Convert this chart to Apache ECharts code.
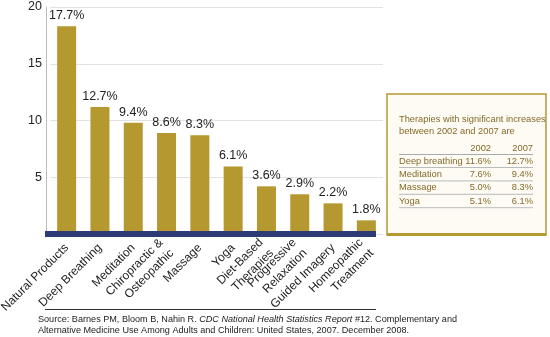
<!DOCTYPE html>
<html><head><meta charset="utf-8">
<script src="https://cdn.jsdelivr.net/npm/echarts@6/dist/echarts.min.js"></script>
<style>html,body{margin:0;padding:0;background:#fff}#c{width:550px;height:337px}</style>
</head><body><div id="c"></div>
<script>
var categories = ['Natural Products','Deep Breathing','Meditation','Chiropractic &\nOsteopathic','Massage','Yoga','Diet-Based\nTherapies','Progressive\nRelaxation','Guided Imagery','Homeopathic\nTreatment'];
var barHeights = [18.3, 11.2, 9.8, 8.9, 8.7, 5.95, 4.2, 3.5, 2.7, 1.2];
var valueLabels = ['17.7%','12.7%','9.4%','8.6%','8.3%','6.1%','3.6%','2.9%','2.2%','1.8%'];
var yTicks = [0, 5, 10, 15, 20];
var tableTitle = ['Therapies with significant increases', 'between 2002 and 2007 are'];
var tableYears = ['2002', '2007'];
var tableRows = ['Deep breathing', 'Meditation', 'Massage', 'Yoga'];
var table2002 = ['11.6%', '7.6%', '5.0%', '5.1%'];
var table2007 = ['12.7%', '9.4%', '8.3%', '6.1%'];

var FONT = '"Liberation Sans", Arial, Helvetica, sans-serif';
var GOLD = '#b5982f';
var NAVY = '#2c3b74';
var TXT = '#86692a';
var TF = '9.3px ' + FONT;

var chart = echarts.init(document.getElementById('c'), null, {renderer: 'canvas'});

var g = [];
// axis band
g.push({type:'rect', shape:{x:45, y:231, width:331, height:6}, style:{fill:NAVY}, z:10});
// box
g.push({type:'rect', shape:{x:387, y:94, width:159, height:141}, style:{fill:'#fdfbf3', stroke:GOLD, lineWidth:1.5}, z:1});
g.push({type:'rect', shape:{x:387, y:233, width:159, height:3}, style:{fill:GOLD}, z:2});
var bx = 399, colA = 491, colB = 533;
g.push({type:'text', x:bx, y:119, style:{text:tableTitle[0], fill:TXT, font:TF, verticalAlign:'middle'}, z:3});
g.push({type:'text', x:bx, y:131.5, style:{text:tableTitle[1], fill:TXT, font:TF, verticalAlign:'middle'}, z:3});
g.push({type:'text', x:colA, y:148, style:{text:tableYears[0], fill:TXT, font:TF, align:'right', verticalAlign:'middle'}, z:3});
g.push({type:'text', x:colB, y:148, style:{text:tableYears[1], fill:TXT, font:TF, align:'right', verticalAlign:'middle'}, z:3});
g.push({type:'line', shape:{x1:bx, y1:154.5, x2:colB, y2:154.5}, style:{stroke:'#aaa', lineWidth:1}, z:3});
for (var i = 0; i < tableRows.length; i++) {
  var yy = 161 + i * 13.4;
  g.push({type:'text', x:bx, y:yy, style:{text:tableRows[i], fill:TXT, font:TF, verticalAlign:'middle'}, z:3});
  g.push({type:'text', x:colA, y:yy, style:{text:table2002[i], fill:TXT, font:TF, align:'right', verticalAlign:'middle'}, z:3});
  g.push({type:'text', x:colB, y:yy, style:{text:table2007[i], fill:TXT, font:TF, align:'right', verticalAlign:'middle'}, z:3});
  g.push({type:'line', shape:{x1:bx, y1:yy+6.5, x2:colB, y2:yy+6.5}, style:{stroke:'#bbb', lineWidth:1}, z:3});
}
// source
g.push({type:'line', shape:{x1:45, y1:309.5, x2:376, y2:309.5}, style:{stroke:'#333', lineWidth:1}});
g.push({type:'text', x:38, y:325, style:{
  text:'{n|Source: Barnes PM, Bloom B, Nahin R. }{i|CDC National Health Statistics Report}{n| #12. Complementary and}\n{n|Alternative Medicine Use Among Adults and Children: United States, 2007. December 2008.}',
  rich:{n:{fontSize:9.1, fontFamily:FONT, fill:'#222', lineHeight:10.5}, i:{fontSize:9.1, fontFamily:FONT, fontStyle:'italic', fill:'#222', lineHeight:10.5}},
  verticalAlign:'middle', fill:'#222'
}});

chart.setOption({
  animation:false,
  backgroundColor:'#fff',
  textStyle:{fontFamily:FONT},
  grid:{left:50, right:167, top:7, bottom:103, containLabel:false, outerBoundsMode:'none'},
  xAxis:{type:'category', data:categories,
    axisLine:{show:false},
    axisTick:{show:false},
    axisLabel:{interval:0, rotate:45, fontSize:12, color:'#222', margin:12, lineHeight:15, fontFamily:FONT}
  },
  yAxis:{type:'value', min:yTicks[0], max:yTicks[yTicks.length-1], interval:5, offset:4,
    axisLine:{show:true, lineStyle:{color:'#bbb'}},
    axisTick:{show:false},
    splitLine:{lineStyle:{color:'#e2e2e2'}},
    axisLabel:{fontSize:12.5, color:'#222', margin:4, fontFamily:FONT, formatter:function(v){return v===0?'':String(v);}}
  },
  series:[{type:'bar', data:barHeights, barWidth:19, itemStyle:{color:GOLD},
    label:{show:true, position:'top', distance:4, fontSize:12.5, color:'#222', fontFamily:FONT,
      formatter:function(p){return valueLabels[p.dataIndex];}}
  }],
  graphic:g
});
</script></body></html>
